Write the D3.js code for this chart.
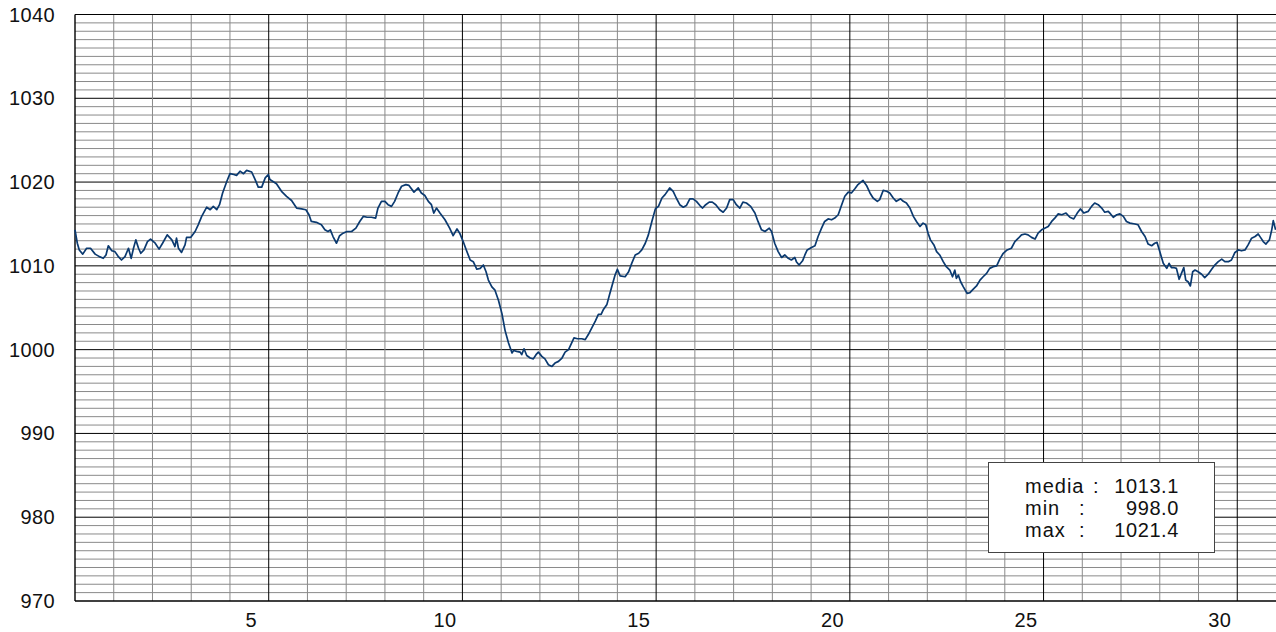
<!DOCTYPE html>
<html>
<head>
<meta charset="utf-8">
<script src="https://cdn.jsdelivr.net/npm/d3@7"></script>
<style>
  html, body { margin: 0; padding: 0; background: #fff; }
  svg { display: block; }
  text { font-family: "Liberation Sans", Arial, sans-serif; fill: #111; }
</style>
</head>
<body>
<svg id="chart" width="1276" height="632"></svg>
<script>
// ---- data ----
const days = [
  0.00,0.06,0.11,0.20,0.30,0.40,0.52,0.63,0.73,0.80,0.86,0.95,1.03,1.12,1.20,1.29,1.38,1.45,1.51,1.57,
  1.64,1.70,1.78,1.87,1.95,2.07,2.17,2.26,2.38,2.50,2.58,2.62,2.67,2.75,2.84,2.88,2.99,3.10,3.18,3.27,
  3.40,3.49,3.57,3.66,3.73,3.81,3.92,4.00,4.10,4.17,4.26,4.35,4.43,4.56,4.65,4.73,4.82,4.91,4.99,
  5.03,5.20,5.33,5.46,5.59,5.72,5.85,5.96,6.04,6.10,6.23,6.36,6.45,6.53,6.59,6.66,6.75,6.83,6.92,7.02,
  7.14,7.25,7.35,7.44,7.54,7.65,7.76,7.82,7.91,8.00,8.08,8.17,8.25,8.34,8.43,8.54,8.62,8.75,8.86,8.94,
  9.03,9.12,9.20,9.26,9.33,9.42,9.55,9.67,9.76,9.86,9.93,10.02,10.10,
  10.20,10.28,10.37,10.46,10.54,10.61,10.67,10.76,10.84,10.93,11.02,11.10,11.19,11.28,11.32,11.40,11.49,11.53,11.59,11.66,
  11.75,11.83,11.90,11.96,12.05,12.13,12.22,12.31,12.39,12.48,12.57,12.65,12.74,12.82,12.88,12.97,13.08,13.17,13.25,13.34,
  13.43,13.51,13.58,13.64,13.73,13.80,13.86,13.94,14.00,14.07,14.20,14.29,14.37,14.46,14.55,14.63,14.72,14.80,14.89,14.98,
  15.06,15.15,15.23,
  15.35,15.44,15.52,15.61,15.70,15.78,15.87,15.95,16.04,16.13,16.20,16.28,16.37,16.45,16.54,16.64,16.73,16.82,16.90,16.99,
  17.07,17.16,17.24,17.33,17.44,17.55,17.63,17.72,17.81,17.92,17.98,18.06,18.15,18.24,18.32,18.41,18.49,18.58,18.62,18.69,
  18.78,18.84,18.90,19.01,19.10,19.18,19.27,19.35,19.44,19.53,19.61,19.70,19.79,19.87,19.96,20.04,20.13,20.21,20.34,20.43,
  20.52,20.60,20.71,20.77,20.86,20.95,21.03,21.12,21.20,21.31,21.38,21.46,21.55,21.64,21.72,21.81,21.89,21.96,22.02,22.08,
  22.17,22.24,22.32,22.41,22.49,22.58,22.65,22.71,22.75,22.80,22.86,22.93,23.03,23.10,23.18,23.27,23.36,23.44,23.53,23.61,
  23.70,23.79,23.87,23.96,24.06,24.17,24.26,24.35,24.43,24.52,24.60,24.69,24.78,24.86,24.95,25.03,25.12,25.21,25.29,25.38,
  25.47,25.58,
  25.68,25.78,25.87,25.95,26.04,26.15,26.24,26.32,26.41,26.50,26.58,26.67,26.73,26.80,26.89,26.97,27.06,27.14,27.23,27.36,
  27.44,27.53,27.62,27.70,27.79,27.87,27.93,28.00,28.09,28.18,28.24,28.30,28.36,28.43,28.50,28.56,28.62,28.67,28.73,28.79,
  28.85,28.91,28.99,29.08,29.16,29.25,29.34,29.42,29.51,29.60,29.68,29.77,29.85,29.94,30.03,30.11,30.20,30.28,30.37,30.46,
  30.54,30.60,30.67,30.74,30.83,30.89,30.93,30.99
];
const pressure = [
  1014.3,1012.7,1011.9,1011.4,1012.1,1012.1,1011.4,1011.1,1010.9,1011.3,1012.4,1011.8,1011.7,1011.1,1010.7,1011.1,1012.1,1010.9,1012.1,1013.1,
  1012.1,1011.5,1011.9,1012.9,1013.2,1012.7,1012.0,1012.7,1013.7,1013.1,1012.3,1013.3,1012.1,1011.6,1012.5,1013.4,1013.4,1014.1,1014.9,1015.9,
  1017.0,1016.7,1017.1,1016.7,1017.3,1018.7,1020.1,1021.0,1020.9,1020.8,1021.3,1021.0,1021.4,1021.2,1020.3,1019.4,1019.4,1020.5,1020.9,
  1020.3,1019.8,1018.9,1018.3,1017.8,1016.9,1016.8,1016.7,1016.1,1015.3,1015.2,1014.9,1014.3,1014.1,1014.3,1013.5,1012.7,1013.6,1013.9,1014.1,
  1014.1,1014.5,1015.3,1015.9,1015.8,1015.8,1015.7,1016.9,1017.7,1017.7,1017.3,1017.1,1017.7,1018.7,1019.5,1019.7,1019.6,1018.8,1019.3,1018.7,
  1018.4,1017.7,1017.3,1016.3,1016.9,1016.3,1015.5,1014.5,1013.6,1014.4,1013.9,1012.9,1011.9,
  1010.7,1010.5,1009.6,1009.7,1010.1,1009.3,1008.3,1007.5,1007.1,1005.9,1004.3,1002.3,1000.8,999.6,999.9,999.8,999.7,999.4,1000.1,999.3,
  999.0,998.9,999.4,999.7,999.2,998.9,998.2,998.0,998.4,998.6,999.0,999.7,1000.0,1000.8,1001.4,1001.3,1001.3,1001.2,1001.8,1002.6,
  1003.4,1004.2,1004.2,1004.8,1005.4,1006.6,1007.6,1008.9,1009.6,1008.8,1008.7,1009.3,1010.3,1011.3,1011.5,1011.9,1012.7,1013.7,1015.3,1016.8,
  1017.1,1018.1,1018.5,
  1019.3,1018.9,1018.1,1017.3,1017.0,1017.2,1018.0,1018.0,1017.7,1017.2,1016.9,1017.3,1017.6,1017.6,1017.3,1016.7,1016.4,1016.9,1017.9,1017.9,
  1017.3,1016.9,1017.6,1017.5,1017.1,1016.3,1015.3,1014.3,1014.1,1014.5,1014.1,1012.7,1011.7,1011.0,1011.3,1010.9,1010.7,1011.0,1010.5,1010.1,
  1010.6,1011.3,1011.9,1012.2,1012.4,1013.5,1014.5,1015.3,1015.6,1015.5,1015.7,1016.1,1017.3,1018.3,1018.8,1018.7,1019.2,1019.7,1020.2,1019.6,
  1018.7,1018.1,1017.7,1017.9,1019.0,1018.9,1018.7,1018.1,1017.7,1018.0,1017.7,1017.5,1016.9,1015.9,1015.3,1014.7,1015.1,1014.9,1013.9,1013.1,
  1012.5,1011.7,1011.3,1010.5,1009.9,1009.5,1008.7,1009.5,1008.5,1008.9,1008.1,1007.5,1006.7,1006.8,1007.2,1007.6,1008.3,1008.7,1009.1,1009.7,
  1009.9,1010.0,1010.8,1011.5,1011.9,1012.1,1012.9,1013.3,1013.7,1013.8,1013.7,1013.4,1013.2,1013.9,1014.3,1014.5,1014.7,1015.3,1015.7,1016.2,
  1016.1,1016.3,
  1015.8,1015.6,1016.3,1016.8,1016.3,1016.5,1017.1,1017.5,1017.3,1016.9,1016.4,1016.5,1016.2,1015.8,1016.1,1016.2,1015.9,1015.3,1015.1,1015.0,
  1014.9,1014.1,1013.5,1012.6,1012.4,1012.7,1012.8,1011.7,1010.3,1009.7,1010.3,1009.8,1009.8,1009.7,1008.4,1009.1,1009.8,1008.3,1008.1,1007.6,
  1009.3,1009.5,1009.3,1009.0,1008.6,1009.0,1009.6,1010.1,1010.5,1010.8,1010.5,1010.5,1010.7,1011.6,1011.9,1011.8,1011.9,1012.5,1013.3,1013.5,
  1013.8,1013.4,1012.9,1012.6,1013.1,1014.3,1015.4,1014.3
];
const yTickValues = [970, 980, 990, 1000, 1010, 1020, 1030, 1040];
const xTickLabels = [5, 10, 15, 20, 25, 30];
const statLabels = ["media", "min", "max"];
const statValues = ["1013.1", "998.0", "1021.4"];

// ---- chart ----
const svg = d3.select("#chart");
const pL = 75, pR = 1276, pT = 14.5, pB = 601;
const x = d3.scaleLinear().domain([0, 31]).range([pL, pR]);
const y = d3.scaleLinear().domain([970, 1040]).range([pB, pT]);

const grid = svg.append("g");
// horizontal grid: every 1 hPa
const hVals = d3.range(971, 1040);
grid.selectAll("line.h").data(hVals).join("line")
  .attr("x1", pL).attr("x2", pR)
  .attr("y1", d => y(d)).attr("y2", d => y(d))
  .attr("stroke", d => d % 10 === 0 ? "#000" : "#8a8a8a")
  .attr("stroke-width", 1);
// vertical grid: every day
const vVals = d3.range(1, 31);
grid.selectAll("line.v").data(vVals).join("line")
  .attr("x1", d => x(d)).attr("x2", d => x(d))
  .attr("y1", pT).attr("y2", pB)
  .attr("stroke", d => d % 5 === 0 ? "#000" : "#8a8a8a")
  .attr("stroke-width", 1);

// frame (left, top, bottom)
svg.append("line").attr("x1", pL).attr("x2", pR).attr("y1", y(1040)).attr("y2", y(1040)).attr("stroke", "#000").attr("stroke-width", 1.2);
svg.append("line").attr("x1", pL).attr("x2", pR).attr("y1", y(970)).attr("y2", y(970)).attr("stroke", "#000").attr("stroke-width", 1.4);
svg.append("line").attr("x1", pL).attr("x2", pL).attr("y1", pT).attr("y2", pB).attr("stroke", "#000").attr("stroke-width", 1.4);

// y labels
svg.append("g").selectAll("text").data(yTickValues).join("text")
  .attr("x", 55).attr("y", d => y(d) + 7)
  .attr("text-anchor", "end")
  .style("font-size", "20px")
  .style("letter-spacing", "0.4px")
  .text(d => d);

// x labels
svg.append("g").selectAll("text").data(xTickLabels).join("text")
  .attr("x", d => x(d - 0.45))
  .attr("y", 627)
  .attr("text-anchor", "middle")
  .style("font-size", "20px")
  .style("letter-spacing", "0.4px")
  .text(d => d);

// line
const pts = days.map((d, i) => [d, pressure[i]]);
svg.append("path")
  .datum(pts)
  .attr("fill", "none")
  .attr("stroke", "#0b3a70")
  .attr("stroke-width", 1.7)
  .attr("stroke-linejoin", "round")
  .attr("d", d3.line().x(d => x(d[0])).y(d => y(d[1])));

// stats box
const box = svg.append("g");
box.append("rect")
  .attr("x", 988.5).attr("y", 462.5).attr("width", 226).attr("height", 90)
  .attr("fill", "#fff").attr("stroke", "#444").attr("stroke-width", 1);
const rowY = [493, 515, 537];
const colonX = [1093, 1079, 1079];
statLabels.forEach((lab, i) => {
  box.append("text").attr("x", 1025).attr("y", rowY[i]).style("font-size", "20px").style("letter-spacing", "1px").text(lab);
  box.append("text").attr("x", colonX[i]).attr("y", rowY[i]).style("font-size", "20px").text(":");
  box.append("text").attr("x", 1179).attr("y", rowY[i]).attr("text-anchor", "end").style("font-size", "20px").style("letter-spacing", "0.6px").text(statValues[i]);
});
</script>
</body>
</html>
